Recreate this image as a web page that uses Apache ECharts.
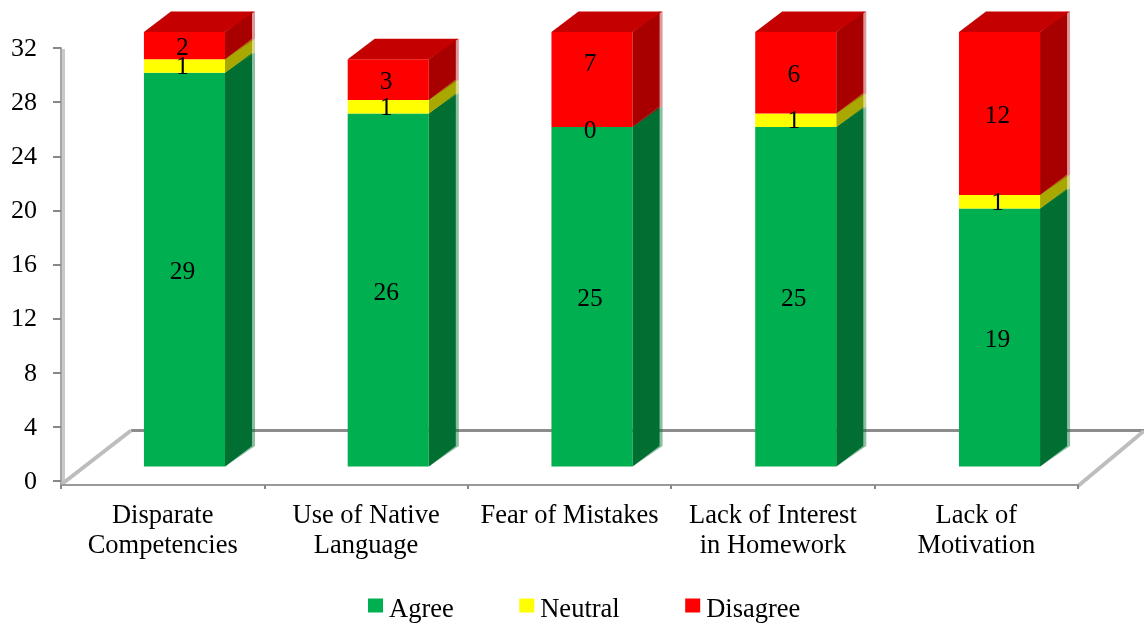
<!DOCTYPE html>
<html>
<head>
<meta charset="utf-8">
<style>html,body{margin:0;padding:0;background:#fff}#c{width:1144px;height:624px}</style>
<script src="https://cdn.jsdelivr.net/npm/echarts@6/dist/echarts.min.js"></script>
</head>
<body>
<div id="c"></div>
<script>
const categories = ['Disparate\nCompetencies', 'Use of Native\nLanguage', 'Fear of Mistakes', 'Lack of Interest\nin Homework', 'Lack of\nMotivation'];
const agree = [29, 26, 25, 25, 19];
const neutral = [1, 1, 0, 1, 1];
const disagree = [2, 3, 7, 6, 12];
const yTicks = [0, 32, 4];

const FONT = '"Liberation Serif","Times New Roman",serif';
const DX = 27, DY = -20.5;
const palettes = {
  Agree:    {front: '#00B050', side: '#006F31', edge: 'rgba(0,111,49,0.45)', nudge: 2},
  Neutral:  {front: '#FFFF00', side: '#A8A800', edge: 'rgba(168,168,0,0.45)', nudge: 0.5},
  Disagree: {front: '#FF0000', side: '#A80000', edge: 'rgba(168,0,0,0.4)', top: '#C40000', nudge: 2}
};
// Labels that sit away from the centre of their segment in the reference.
const labelShift = {'Disagree:2': -18, 'Neutral:2': 2.5};

function make3d(name, values, below, isTop) {
  const p = palettes[name];
  const data = values.map((v, i) => [i, below[i], below[i] + v, v]);
  return {
    name, type: 'custom', xAxisIndex: 1, yAxisIndex: 1,
    itemStyle: {color: p.front},
    encode: {x: 0, y: [1, 2]},
    data,
    renderItem(params, api) {
      const c = api.value(0);
      const a = api.coord([c, api.value(1)]);
      const b = api.coord([c, api.value(2)]);
      const w = api.size([1, 0])[0] * 0.398;
      const l = a[0] - w / 2, r = a[0] + w / 2, y0 = a[1], y1 = b[1];
      const kids = [
        {type: 'polygon', shape: {points: [[r, y0], [r + DX + 3, y0 + DY], [r + DX + 3, y1 + DY], [r, y1]]}, style: {fill: p.edge}},
        {type: 'polygon', shape: {points: [[r, y0], [r + DX, y0 + DY], [r + DX, y1 + DY], [r, y1]]}, style: {fill: p.side}},
        {type: 'rect', shape: {x: l, y: y1, width: w, height: y0 - y1}, style: {fill: p.front}}
      ];
      if (isTop) {
        kids.push({type: 'polygon', shape: {points: [[l, y1], [l + DX, y1 + DY], [r + DX + 3, y1 + DY], [r, y1]]}, style: {fill: p.top}});
      }
      const shift = labelShift[name + ':' + c] || 0;
      kids.push({
        type: 'text', z2: 100,
        style: {text: String(api.value(3)), x: a[0] - 2, y: (y0 + y1) / 2 + 1 + p.nudge + shift, fill: '#000',
          font: '25.5px ' + FONT, align: 'center', verticalAlign: 'middle'}
      });
      return {type: 'group', children: kids};
    }
  };
}

const base0 = agree.map(() => 0);
const base1 = agree.slice();
const base2 = agree.map((v, i) => v + neutral[i]);

const chart = echarts.init(document.getElementById('c'), null, {renderer: 'canvas'});
chart.setOption({
  animation: false,
  backgroundColor: '#fff',
  grid: [
    {left: 61, width: 1017, top: 48, height: 433},
    {left: 82.6, width: 1018.8, top: 32, height: 434.5}
  ],
  xAxis: [
    {gridIndex: 0, type: 'category', data: categories, offset: 4,
      axisLine: {onZero: false, lineStyle: {color: '#999', width: 2}},
      axisTick: {show: true, length: 4, lineStyle: {color: '#888', width: 2}},
      axisLabel: {fontFamily: FONT, fontSize: 26.5, color: '#000', lineHeight: 30, margin: 16.5, interval: 0},
      splitLine: {show: false}},
    {gridIndex: 1, type: 'category', data: categories, show: false}
  ],
  yAxis: [
    {gridIndex: 0, type: 'value', min: yTicks[0], max: yTicks[1], interval: yTicks[2],
      axisLine: {show: true, lineStyle: {color: '#a6a6a6', width: 2}},
      axisTick: {show: true, length: 8, lineStyle: {color: '#888', width: 2}},
      axisLabel: {color: '#000', margin: 24, formatter: '{t|{value}}',
        rich: {t: {fontFamily: FONT, fontSize: 26, color: '#000', padding: [2, 0, 0, 0]}}},
      splitLine: {show: false}},
    {gridIndex: 1, type: 'value', min: yTicks[0], max: yTicks[1], show: false}
  ],
  legend: {
    left: 363, top: 592, itemWidth: 15, itemHeight: 14, itemGap: 65.5, icon: 'rect',
    data: ['Agree', 'Neutral', 'Disagree'],
    formatter: '{t|{name}}',
    textStyle: {color: '#000', rich: {t: {fontFamily: FONT, fontSize: 26.5, color: '#000', padding: [10, 0, 0, 1]}}}
  },
  graphic: [
    {type: 'line', z: 0, shape: {x1: 63.5, y1: 49, x2: 63.5, y2: 482}, style: {stroke: '#c9c9c9', lineWidth: 3}},
    {type: 'line', z: 0, shape: {x1: 61, y1: 480, x2: 61, y2: 486}, style: {stroke: '#a6a6a6', lineWidth: 2}},
    {type: 'line', z: 0, shape: {x1: 131, y1: 430.5, x2: 1144, y2: 430.5}, style: {stroke: '#8c8c8c', lineWidth: 3}},
    {type: 'line', z: 0, shape: {x1: 62, y1: 484, x2: 131, y2: 430.5}, style: {stroke: '#bdbdbd', lineWidth: 4}},
    {type: 'line', z: 0, shape: {x1: 1078, y1: 486, x2: 1144, y2: 431}, style: {stroke: '#bdbdbd', lineWidth: 4}}
  ],
  series: [
    make3d('Agree', agree, base0, false),
    make3d('Neutral', neutral, base1, false),
    make3d('Disagree', disagree, base2, true)
  ]
});
</script>
</body>
</html>
